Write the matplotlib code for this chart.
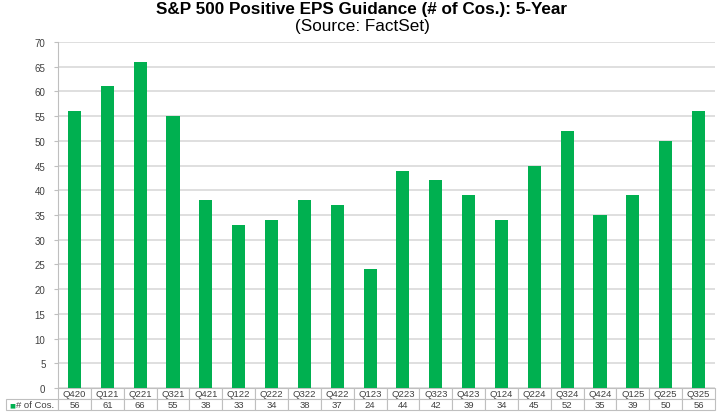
import matplotlib
matplotlib.use("Agg")
import matplotlib.pyplot as plt
from matplotlib.ticker import MultipleLocator
from matplotlib.table import Table

quarters = ["Q420", "Q121", "Q221", "Q321", "Q421", "Q122", "Q222", "Q322", "Q422", "Q123",
            "Q223", "Q323", "Q423", "Q124", "Q224", "Q324", "Q424", "Q125", "Q225", "Q325"]
values = [56, 61, 66, 55, 38, 33, 34, 38, 37, 24, 44, 42, 39, 34, 45, 52, 35, 39, 50, 56]
series_name = "# of Cos."
title = "S&P 500 Positive EPS Guidance (# of Cos.): 5-Year"
subtitle = "(Source: FactSet)"

plt.rcParams['font.family'] = ['Liberation Sans', 'DejaVu Sans']
GREEN = "#00B050"
GRID = "#D9D9D9"
TXT = "#404040"

W, H = 724, 414
fig = plt.figure(figsize=(W / 100, H / 100), dpi=100)
L, R, B, T = 58, 715, 389, 43
ax = fig.add_axes([L / W, (H - B) / H, (R - L) / W, (B - T) / H])

n = len(quarters)
x = list(range(n))
ax.bar(x, values, width=0.4, color=GREEN, zorder=3)
ax.set_xlim(-0.5, n - 0.5)
ax.set_ylim(0, 70)
ax.yaxis.set_major_locator(MultipleLocator(5))
ax.grid(axis='y', color=GRID, linewidth=1.2, zorder=0)
ax.set_xticks([])
for s in ['top', 'right', 'bottom']:
    ax.spines[s].set_visible(False)
ax.spines['left'].set_color("#BFBFBF")
ax.tick_params(axis='y', length=3, color="#BFBFBF", labelsize=7, labelcolor=TXT, pad=6)

# data table
row_w = 52 / (R - L)
th = 22 / (B - T)
cw = 1 / n
tbl = Table(ax, bbox=[0, -th, 1, th])
for i, q in enumerate(quarters):
    tbl.add_cell(0, i, width=cw, height=0.5, text=q, loc='center')
    tbl.add_cell(1, i, width=cw, height=0.5, text=str(values[i]), loc='center')
tbl.add_cell(1, -1, width=row_w, height=0.5, text="", loc='left')
tbl.auto_set_font_size(False)
tbl.set_fontsize(6.8)
for (r, c), cell in tbl.get_celld().items():
    cell.set_edgecolor("#BFBFBF")
    cell.set_linewidth(0.8)
    cell.get_text().set_color(TXT)
ax.add_table(tbl)
px = 1 / (R - L)
ax.text(-row_w + 3 * px, -th * 0.75, "■", transform=ax.transAxes, color=GREEN,
        fontsize=4.5, va='center', ha='left', family='DejaVu Sans')
ax.text(-row_w + 10 * px, -th * 0.75, series_name, transform=ax.transAxes, color=TXT,
        fontsize=6.8, va='center', ha='left')

fig.text(0.5, 1 - 9.5 / H, title, ha='center', va='center', fontsize=12.3, fontweight='bold', color="#000000")
fig.text(0.5, 1 - 27 / H, subtitle, ha='center', va='center', fontsize=12.3, color="#000000")

fig.savefig("out.png", dpi=100)
